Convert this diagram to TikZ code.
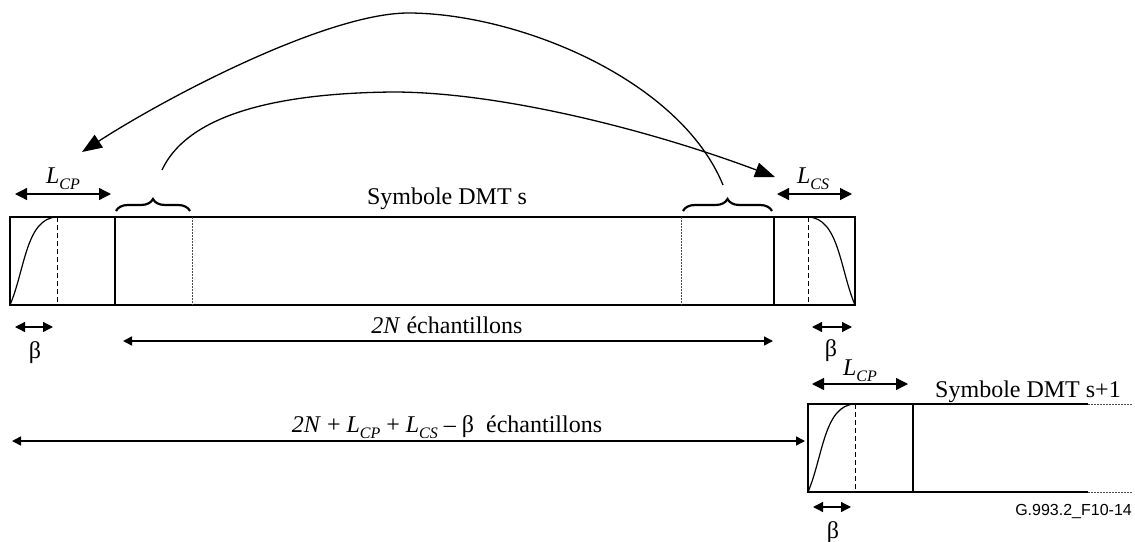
\documentclass[tikz,border=0pt]{standalone}
\usepackage{fontspec}
\setmainfont{Liberation Serif}
\newfontfamily\figsans{Liberation Sans}
\usetikzlibrary{arrows.meta,decorations.pathreplacing}
\newcommand\mysub[1]{\raisebox{-0.25em}{\fontsize{16}{16}\selectfont\itshape #1}}
\begin{document}
\begin{tikzpicture}[x=1pt,y=-1pt,
 lbl/.style={font=\fontsize{24}{28}\selectfont, inner sep=0pt, anchor=base},
 box/.style={line width=1.2pt},
 divider/.style={line width=2pt},
 dashline/.style={line width=1pt, dash pattern=on 5pt off 3pt},
 dotline/.style={line width=1pt, dash pattern=on 1.5pt off 1.5pt, black!70},
 ramp/.style={line width=1.2pt},
 dimarr/.style={line width=1.3pt, {Triangle[length=12pt,width=12pt]}-{Triangle[length=12pt,width=12pt]}},
 smallarr/.style={line width=1.3pt, {Triangle[length=10pt,width=10pt]}-{Triangle[length=10pt,width=10pt]}},
 longarr/.style={line width=1.5pt, {Triangle[length=9pt,width=9pt]}-{Triangle[length=9pt,width=9pt]}},
 bigarc/.style={line width=1.3pt, -{Triangle[length=20pt,width=15pt]}},
 bracestyle/.style={line width=2.2pt, decorate, decoration={brace, amplitude=12pt}},
]
\useasboundingbox (0,0) rectangle (1135,541);

% ---- symbol s ----
\draw[box] (10,217) rectangle (855,305);
\draw[divider] (115,217) -- (115,305);
\draw[divider] (774,217) -- (774,305);
\draw[dashline] (57,217) -- (57,305);
\draw[dashline] (808,217) -- (808,305);
\draw[dotline] (192,217) -- (192,305);
\draw[dotline] (681,217) -- (681,305);
\draw[ramp] (10,305) .. controls (25,270) and (26,218) .. (57,217);
\draw[ramp] (808,217) .. controls (839,218) and (840,270) .. (855,305);

% braces
\draw[bracestyle] (116,211) -- (190,211);
\draw[bracestyle] (683,211) -- (772,211);

% arcs
\coordinate (bL) at (162,170);
\coordinate (bR) at (723,185);
\coordinate (tL) at (82,152);
\coordinate (tR) at (775,177);
\draw[bigarc] (bR) .. controls (680,80) and (520,14) .. (410,13) .. controls (330,12) and (170,95) .. (tL);
\draw[bigarc] (bL) .. controls (190,110) and (290,93) .. (393,92) .. controls (500,92) and (650,130) .. (tR);

% dimension arrows
\coordinate (cpA) at (15,194);  \coordinate (cpB) at (111,194);
\coordinate (csA) at (777,194); \coordinate (csB) at (852,194);
\coordinate (b1A) at (15,327);  \coordinate (b1B) at (53,327);
\coordinate (b2A) at (812,327); \coordinate (b2B) at (852,327);
\coordinate (nA) at (123,341);  \coordinate (nB) at (773,341);
\coordinate (tA) at (12,441);   \coordinate (tB) at (805,441);
\coordinate (cp2A) at (812,384); \coordinate (cp2B) at (908,384);
\coordinate (b3A) at (813,507); \coordinate (b3B) at (851,507);
\draw[dimarr] (cpA) -- (cpB);
\draw[dimarr] (csA) -- (csB);
\draw[smallarr] (b1A) -- (b1B);
\draw[smallarr] (b2A) -- (b2B);
\draw[longarr] (nA) -- (nB);
\draw[longarr] (tA) -- (tB);
\draw[dimarr] (cp2A) -- (cp2B);
\draw[smallarr] (b3A) -- (b3B);

% ---- symbol s+1 ----
\draw[box] (1088,404) -- (808,404) -- (808,492) -- (1088,492);
\draw[dotline] (1088,404) -- (1132,404);
\draw[dotline] (1088,492) -- (1132,492);
\draw[divider] (913,404) -- (913,492);
\draw[dashline] (855,404) -- (855,492);
\draw[ramp] (808,492) .. controls (823,457) and (824,405) .. (855,404);

% labels
\node[lbl] (sym) at (447,204) {Symbole DMT s};
\node[lbl] (lcp) at (63,183) {\textit{L}\mysub{CP}};
\node[lbl] (lcs) at (813,183) {\textit{L}\mysub{CS}};
\node[lbl] (beta1) at (35,358) {β};
\node[lbl] (beta2) at (831,356) {β};
\node[lbl] (twoN) at (447,333) {\textit{2N} échantillons};
\node[lbl] (total) at (447,432) {\textit{2N} + \textit{L}\mysub{CP} + \textit{L}\mysub{CS} – β\ \ échantillons};
\node[lbl] (lcp2) at (860,375) {\textit{L}\mysub{CP}};
\node[lbl] (sym2) at (1028,397) {Symbole DMT s+1};
\node[lbl] (beta3) at (833,538) {β};
\node[font=\figsans\fontsize{16}{18}\selectfont, inner sep=0pt, anchor=base east] (fig) at (1132,515) {G.993.2\_F10-14};
\end{tikzpicture}
\end{document}
